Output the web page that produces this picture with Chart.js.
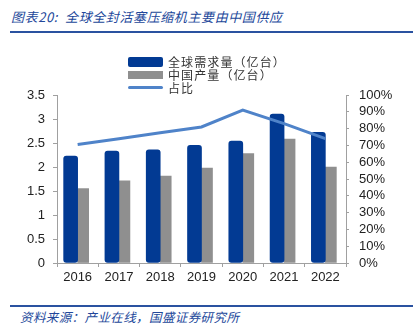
<!DOCTYPE html>
<html lang="zh">
<head>
  <meta charset="UTF-8" />
  <title>全球全封活塞压缩机主要由中国供应</title>
  <script src="https://cdn.jsdelivr.net/npm/chart.js"></script>
  <style>
    body { margin: 0; background: #fff; }
    #wrap { position: relative; width: 419px; height: 334px; overflow: hidden; }
    .title {
      position: absolute; left: 11px; top: 7px;
      font-family: "Noto Sans CJK SC", sans-serif; font-style: italic; font-weight: normal;
      font-size: 13px; color: #22479a; letter-spacing: 0.6px; white-space: nowrap;
    }
    .rule { position: absolute; left: 10px; width: 403px; height: 2px; background: #2a52a0; }
    .source {
      position: absolute; left: 20px; top: 307px;
      font-family: "Noto Sans CJK SC", sans-serif; font-style: italic;
      font-size: 12.5px; color: #22479a; letter-spacing: 0.4px; white-space: nowrap;
    }
    #chart-box { position: absolute; left: 0; top: 40px; width: 419px; height: 250px; }
    .legend {
      position: absolute; left: 128px; top: 55px;
      font-family: "Noto Sans CJK SC", sans-serif; font-size: 12px; color: #333;
      letter-spacing: 1.1px;
    }
    .legend div { height: 13px; line-height: 13px; display: flex; align-items: center; white-space: nowrap; }
    .legend span.sw { display: inline-block; width: 35px; margin-right: 5px; }
  </style>
</head>
<body>
<div id="wrap">
  <div class="title">图表20:&nbsp; 全球全封活塞压缩机主要由中国供应</div>
  <div class="rule" style="top:31px"></div>
  <div id="chart-box"><canvas id="c"></canvas></div>
  <div class="legend">
    <div><span class="sw" style="height:10px;background:#023a93;border-radius:2px"></span>全球需求量（亿台）</div>
    <div><span class="sw" style="height:8px;background:#8f8f8f"></span>中国产量（亿台）</div>
    <div><span class="sw" style="height:3px;background:#4f83c9;border-radius:2px"></span>占比</div>
  </div>
  <div class="rule" style="top:305px"></div>
  <div class="source">资料来源：产业在线，国盛证券研究所</div>
</div>
<script>
  // 数据
  const years = ["2016", "2017", "2018", "2019", "2020", "2021", "2022"];
  const globalDemand = [2.23, 2.33, 2.36, 2.45, 2.54, 3.10, 2.72];
  const chinaOutput = [1.55, 1.71, 1.81, 1.98, 2.28, 2.58, 2.00];
  const sharePct = [70.5, 74, 77.5, 81, 91, 83, 74];

  const tickFont = { family: "Liberation Sans", size: 13 };

  new Chart(document.getElementById("c"), {
    data: {
      labels: years,
      datasets: [
        {
          type: "line", label: "占比", data: sharePct, yAxisID: "y1",
          borderColor: "#4f83c9", borderWidth: 3, pointRadius: 0, tension: 0, order: 0
        },
        {
          type: "bar", label: "全球需求量（亿台）", data: globalDemand, yAxisID: "y",
          backgroundColor: "#023a93", barThickness: 14, borderRadius: 3, borderSkipped: false, order: 1
        },
        {
          type: "bar", label: "中国产量（亿台）", data: chinaOutput, yAxisID: "y",
          backgroundColor: "#8f8f8f", barThickness: 11, order: 2
        }
      ]
    },
    options: {
      responsive: true,
      maintainAspectRatio: false,
      animation: false,
      layout: { padding: { top: 55, left: 0, right: 0, bottom: 0 } },
      plugins: { legend: { display: false }, tooltip: { enabled: false } },
      scales: {
        x: {
          grid: { display: true, drawOnChartArea: false, tickLength: 4, color: "#a0a0a0", offset: true },
          border: { color: "#a0a0a0" },
          ticks: { font: tickFont, color: "#222", padding: 3, maxRotation: 0 },
          afterFit: (s) => { s.height = 27; }
        },
        y: {
          position: "left", min: 0, max: 3.5,
          grid: { display: true, drawOnChartArea: false, tickLength: 4, color: "#a0a0a0" },
          border: { color: "#a0a0a0" },
          ticks: { stepSize: 0.5, autoSkip: false, font: tickFont, color: "#222", padding: 8,
                   callback: (v) => String(Math.round(v * 10) / 10) },
          afterFit: (s) => { s.width = 57; }
        },
        y1: {
          position: "right", min: 0, max: 100,
          grid: { display: true, drawOnChartArea: false, tickLength: 3, color: "#a0a0a0" },
          border: { color: "#a0a0a0" },
          ticks: { stepSize: 10, autoSkip: false, font: tickFont, color: "#222", padding: 10,
                   callback: (v) => v + "%" },
          afterFit: (s) => { s.width = 73; }
        }
      }
    }
  });
</script>
</body>
</html>
